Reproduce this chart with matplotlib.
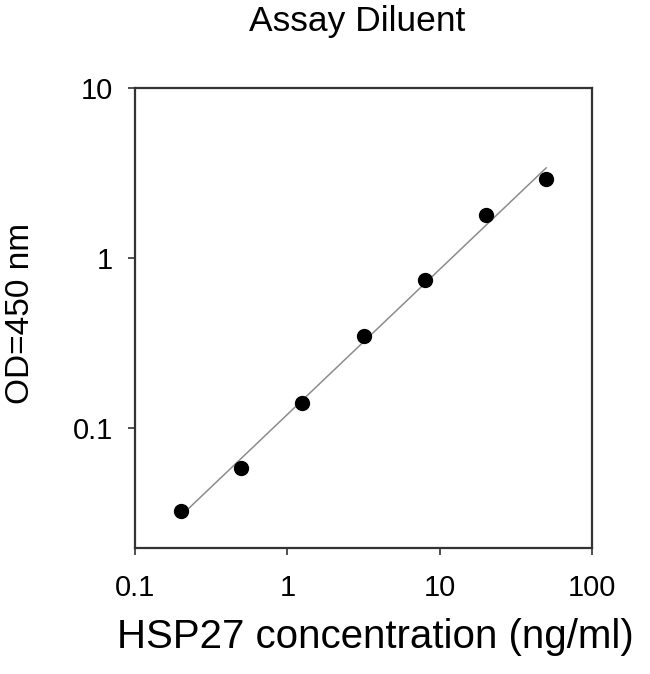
import numpy as np
import matplotlib
matplotlib.use("Agg")
import matplotlib.pyplot as plt

# standard curve
conc = [0.2, 0.5, 1.25, 3.2, 8.0, 20.0, 50.0]
od = [0.0325, 0.058, 0.14, 0.348, 0.74, 1.79, 2.92]

xticks = [0.1, 1, 10, 100]
xticklabels = ["0.1", "1", "10", "100"]
yticks = [0.1, 1, 10]
yticklabels = ["0.1", "1", "10"]

plt.rcParams['font.family'] = ['Liberation Sans', 'DejaVu Sans']

fig = plt.figure(figsize=(6.5, 6.74), dpi=100)
ax = fig.add_axes([0.2077, 0.187, 0.7031, 0.6824])

# straight line fit in log-log space
p = np.polyfit(np.log10(conc), np.log10(od), 1)
fx = np.array([conc[0], conc[-1]])
fy = 10 ** np.polyval(p, np.log10(fx))
ax.plot(fx, fy, color='#8c8c8c', lw=1.1, zorder=2)
ax.plot(conc, od, 'o', color='black', ms=10, zorder=3)

ax.set_xscale('log')
ax.set_yscale('log')
ax.set_xlim(0.1, 100)
ax.set_ylim(0.0197, 10)
ax.set_xticks(xticks)
ax.set_xticklabels(xticklabels)
ax.set_yticks(yticks)
ax.set_yticklabels(yticklabels)
ax.minorticks_off()
ax.tick_params(direction='out', length=5, width=1.2, color='#333333',
               labelsize=21)
ax.tick_params(axis='x', pad=14)
ax.tick_params(axis='y', pad=11)

for s in ax.spines.values():
    s.set_linewidth(1.6)
    s.set_color('#333333')

fig.text(357 / 650, 1 - 21 / 674, "Assay Diluent", ha='center', va='center', fontsize=25.5)
fig.text(375 / 650, 1 - 637 / 674, "HSP27 concentration (ng/ml)",
         ha='center', va='center', fontsize=29)
fig.text(21 / 650, 1 - 313 / 674, "OD=450 nm", rotation=90,
         ha='center', va='center', fontsize=24)

fig.savefig("out.png", dpi=100)
